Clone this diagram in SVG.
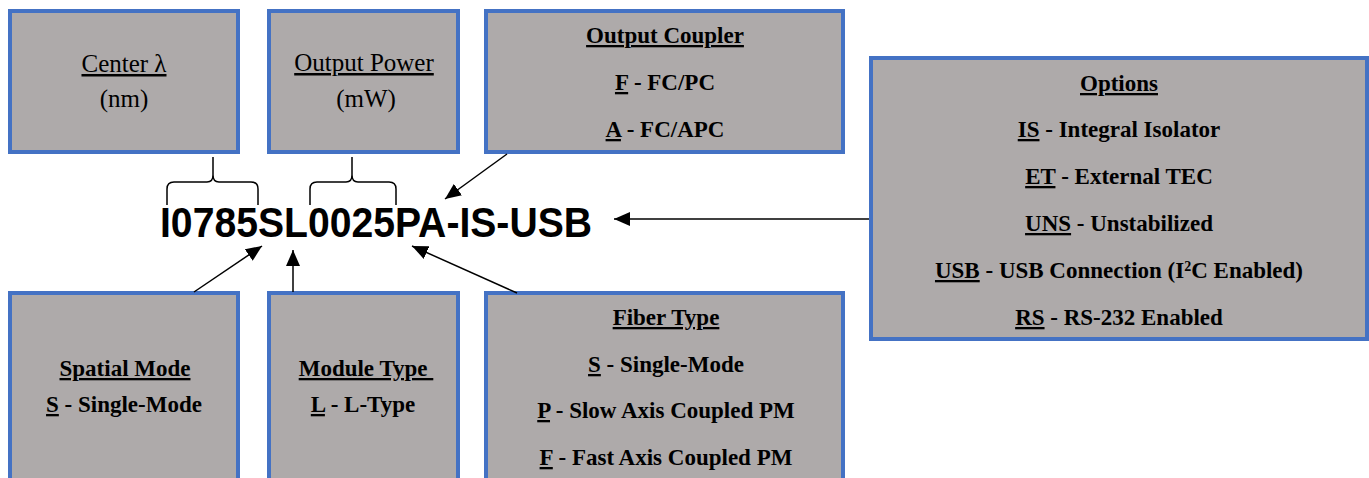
<svg xmlns="http://www.w3.org/2000/svg" width="1369" height="478" viewBox="0 0 1369 478">
<defs>
<marker id="arr" viewBox="0 0 16 14" refX="16" refY="7" markerWidth="16" markerHeight="14" markerUnits="userSpaceOnUse" orient="auto">
<path d="M0,0 L16,7 L0,14 z" fill="#000"/>
</marker>
<style>
.box{fill:#AEAAAA;stroke:#4472C4;stroke-width:4}
.t{font-family:"Liberation Serif","DejaVu Serif",serif;font-size:25px;fill:#000;text-anchor:middle}
.b{font-weight:bold;font-size:23px}
.u{text-decoration:underline}
.con{stroke:#000;stroke-width:1.5;fill:none}
.arrow{marker-end:url(#arr)}
.main{font-family:"Liberation Sans",Arial,sans-serif;font-weight:bold;font-size:42px;fill:#000}
</style>
</defs>
<rect width="1369" height="478" fill="#fff"/>

<g id="center-wavelength">
<rect class="box" x="10" y="11" width="228" height="141"/>
<text class="t" x="124" y="72"><tspan class="u">Center λ</tspan></text>
<text class="t" x="124" y="107">(nm)</text>
</g>

<g id="output-power">
<rect class="box" x="269" y="11" width="189" height="141"/>
<text class="t" x="364" y="71"><tspan class="u">Output Power</tspan></text>
<text class="t" x="366" y="107">(mW)</text>
</g>

<g id="output-coupler">
<rect class="box" x="486" y="11" width="357" height="141"/>
<text class="t b" x="665" y="43"><tspan class="u">Output Coupler</tspan></text>
<text class="t b" x="665" y="90"><tspan class="u">F</tspan> - FC/PC</text>
<text class="t b" x="665" y="137"><tspan class="u">A</tspan> - FC/APC</text>
</g>

<g id="options">
<rect class="box" x="871" y="58" width="496" height="281"/>
<text class="t b" x="1119" y="91"><tspan class="u">Options</tspan></text>
<text class="t b" x="1119" y="137"><tspan class="u">IS</tspan> - Integral Isolator</text>
<text class="t b" x="1119" y="184"><tspan class="u">ET</tspan> - External TEC</text>
<text class="t b" x="1119" y="231"><tspan class="u">UNS</tspan> - Unstabilized</text>
<text class="t b" x="1119" y="278"><tspan class="u">USB</tspan> - USB Connection (I<tspan baseline-shift="super" font-size="14">2</tspan>C Enabled)</text>
<text class="t b" x="1119" y="325"><tspan class="u">RS</tspan> - RS-232 Enabled</text>
</g>

<g id="spatial-mode">
<rect class="box" x="10" y="293" width="228" height="200"/>
<text class="t b" x="125" y="376"><tspan class="u">Spatial Mode</tspan></text>
<text class="t b" x="124" y="412"><tspan class="u">S</tspan> - Single-Mode</text>
</g>

<g id="module-type">
<rect class="box" x="269" y="293" width="189" height="200"/>
<text class="t b" x="366" y="376"><tspan class="u">Module Type&#160;</tspan></text>
<text class="t b" x="363" y="412"><tspan class="u">L</tspan> - L-Type</text>
</g>

<g id="fiber-type">
<rect class="box" x="486" y="293" width="357" height="200"/>
<text class="t b" x="666" y="325"><tspan class="u">Fiber Type</tspan></text>
<text class="t b" x="666" y="372"><tspan class="u">S</tspan> - Single-Mode</text>
<text class="t b" x="666" y="418"><tspan class="u">P</tspan> - Slow Axis Coupled PM</text>
<text class="t b" x="666" y="465"><tspan class="u">F</tspan> - Fast Axis Coupled PM</text>
</g>

<g id="part-number">
<text class="main" x="160" y="237" textLength="432" lengthAdjust="spacingAndGlyphs">I0785SL0025PA-IS-USB</text>
</g>

<g id="connectors">
<path class="con" d="M167,205 V189 Q167,182 174,182 H207 Q213,182 213,175 V157 M213,175 Q213,182 219,182 H251 Q258,182 258,189 V205"/>
<path class="con" d="M310,205 V189 Q310,182 317,182 H346 Q352,182 352,175 V157 M352,175 Q352,182 358,182 H389 Q396,182 396,189 V205"/>
<line class="con arrow" x1="507" y1="154" x2="445" y2="199"/>
<line class="con arrow" x1="869" y1="219" x2="614" y2="219"/>
<line class="con arrow" x1="194" y1="292" x2="262" y2="246"/>
<line class="con arrow" x1="293" y1="292" x2="293" y2="250"/>
<line class="con arrow" x1="517" y1="293" x2="412" y2="246"/>
</g>
</svg>
